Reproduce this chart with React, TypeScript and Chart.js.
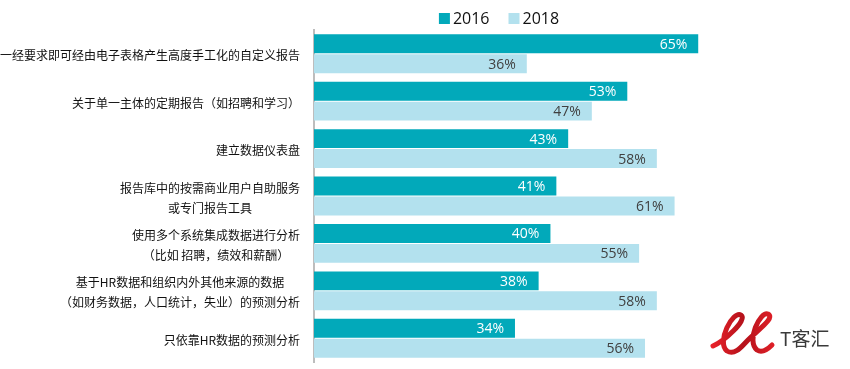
import { useEffect, useRef } from 'react';
import { Chart, registerables } from 'chart.js';

Chart.register(...registerables);

const categories: (string | string[])[] = [
  '一经要求即可经由电子表格产生高度手工化的自定义报告',
  '关于单一主体的定期报告（如招聘和学习）',
  '建立数据仪表盘',
  ['报告库中的按需商业用户自助服务', '或专门报告工具'],
  ['使用多个系统集成数据进行分析', '（比如 招聘，绩效和薪酬）'],
  ['基于HR数据和组织内外其他来源的数据', '（如财务数据，人口统计，失业）的预测分析'],
  '只依靠HR数据的预测分析',
];

const seriesNames = ['2016', '2018'];
const values2016 = [65, 53, 43, 41, 40, 38, 34];
const values2018 = [36, 47, 58, 61, 55, 58, 56];
const logoText = 'T客汇';

const COLORS = ['#02a9ba', '#b3e1ee'];
const LABEL_COLORS = ['#ffffff', '#404040'];
const CJK = '"Noto Sans CJK SC", "Noto Sans", sans-serif';
const LATIN = '"Open Sans", "Noto Sans", sans-serif';

const decorPlugin = {
  id: 'decor',
  afterDraw(chart: any) {
    const ctx = chart.ctx as CanvasRenderingContext2D;
    const yScale = chart.scales.y;
    // category labels: block right-aligned, lines centered within block
    ctx.save();
    ctx.font = `12px ${CJK}`;
    ctx.fillStyle = '#111111';
    ctx.textAlign = 'center';
    ctx.textBaseline = 'middle';
    const labels = chart.data.labels as (string | string[])[];
    const lineH = 20;
    labels.forEach((lab, i) => {
      const lines = Array.isArray(lab) ? lab : [lab];
      const w = Math.max(...lines.map((l) => ctx.measureText(l).width));
      const right = yScale.right - 14;
      const cx = right - w / 2;
      const cy = yScale.getPixelForTick(i) + 2;
      const y0 = cy - ((lines.length - 1) * lineH) / 2;
      lines.forEach((l, k) => ctx.fillText(l, cx, y0 + k * lineH));
    });
    ctx.restore();

    // legend
    ctx.save();
    ctx.font = `16px ${LATIN}`;
    ctx.textBaseline = 'middle';
    ctx.textAlign = 'left';
    const items = chart.data.datasets.map((d: any) => ({ text: d.label, color: d.backgroundColor }));
    const box = 11, gap = 3, itemGap = 19;
    const widths = items.map((it: any) => box + gap + ctx.measureText(it.text).width);
    const total = widths.reduce((a: number, b: number) => a + b, 0) + itemGap * (items.length - 1);
    let x = 499 - total / 2;
    const cyL = 19;
    items.forEach((it: any, i: number) => {
      ctx.fillStyle = it.color;
      ctx.fillRect(x, cyL - box / 2 - 0.5, box, box);
      ctx.fillStyle = '#111111';
      ctx.fillText(it.text, x + box + gap, cyL);
      x += widths[i] + itemGap;
    });
    ctx.restore();

    // logo
    ctx.save();
    const grad = ctx.createLinearGradient(712, 0, 775, 0);
    grad.addColorStop(0, '#e8222a');
    grad.addColorStop(0.5, '#b5121b');
    grad.addColorStop(1, '#e02028');
    ctx.strokeStyle = grad;
    ctx.lineWidth = 5;
    ctx.lineCap = 'round';
    ctx.beginPath();
    ctx.moveTo(713, 346);
    ctx.bezierCurveTo(724, 341, 748, 320, 741, 315);
    ctx.bezierCurveTo(733, 310, 716, 342, 727, 351);
    ctx.bezierCurveTo(735, 356, 742, 346, 748, 340);
    ctx.bezierCurveTo(760, 328, 775, 318, 768, 314);
    ctx.bezierCurveTo(760, 311, 746, 341, 757, 350);
    ctx.bezierCurveTo(763, 354, 769, 348, 772, 345);
    ctx.stroke();
    ctx.fillStyle = '#3a3a3a';
    ctx.font = `19px ${CJK}`;
    ctx.textAlign = 'left';
    ctx.textBaseline = 'middle';
    ctx.fillText(logoText, 780, 339);
    ctx.restore();
  },
};

const valueLabelPlugin = {
  id: 'valueLabels',
  afterDatasetsDraw(chart: any) {
    const ctx = chart.ctx as CanvasRenderingContext2D;
    ctx.save();
    ctx.font = `14px ${LATIN}`;
    ctx.textAlign = 'right';
    ctx.textBaseline = 'middle';
    chart.data.datasets.forEach((ds: any, di: number) => {
      const meta = chart.getDatasetMeta(di);
      ctx.fillStyle = LABEL_COLORS[di];
      meta.data.forEach((el: any, i: number) => {
        ctx.fillText(`${ds.data[i]}%`, el.x - 11, el.y + 1);
      });
    });
    ctx.restore();
  },
};

export default function App() {
  const ref = useRef<HTMLCanvasElement | null>(null);
  useEffect(() => {
    document.body.style.margin = '0';
    const chart = new Chart(ref.current as HTMLCanvasElement, {
      type: 'bar',
      data: {
        labels: categories,
        datasets: [
          { label: seriesNames[0], data: values2016, backgroundColor: COLORS[0] },
          { label: seriesNames[1], data: values2018, backgroundColor: COLORS[1] },
        ],
      },
      options: {
        indexAxis: 'y',
        responsive: false,
        animation: false,
        events: [],
        layout: { padding: { top: 30, right: 4, bottom: 7, left: 0 } },
        datasets: { bar: { barPercentage: 0.95, categoryPercentage: 0.84, borderWidth: 0 } },
        scales: {
          x: { display: false, min: 0, max: 90 },
          y: {
            z: 1,
            grid: { display: false, drawTicks: false },
            border: { display: true, color: '#bdbdbd', width: 2 },
            ticks: { display: false },
            afterFit: (s: any) => {
              s.width = 314;
            },
          },
        },
        plugins: { legend: { display: false }, tooltip: { enabled: false } },
      },
      plugins: [valueLabelPlugin, decorPlugin],
    });
    return () => chart.destroy();
  }, []);
  return (
    <div style={{ width: 850, height: 369 }}>
      <canvas ref={ref} width={850} height={369} />
    </div>
  );
}
